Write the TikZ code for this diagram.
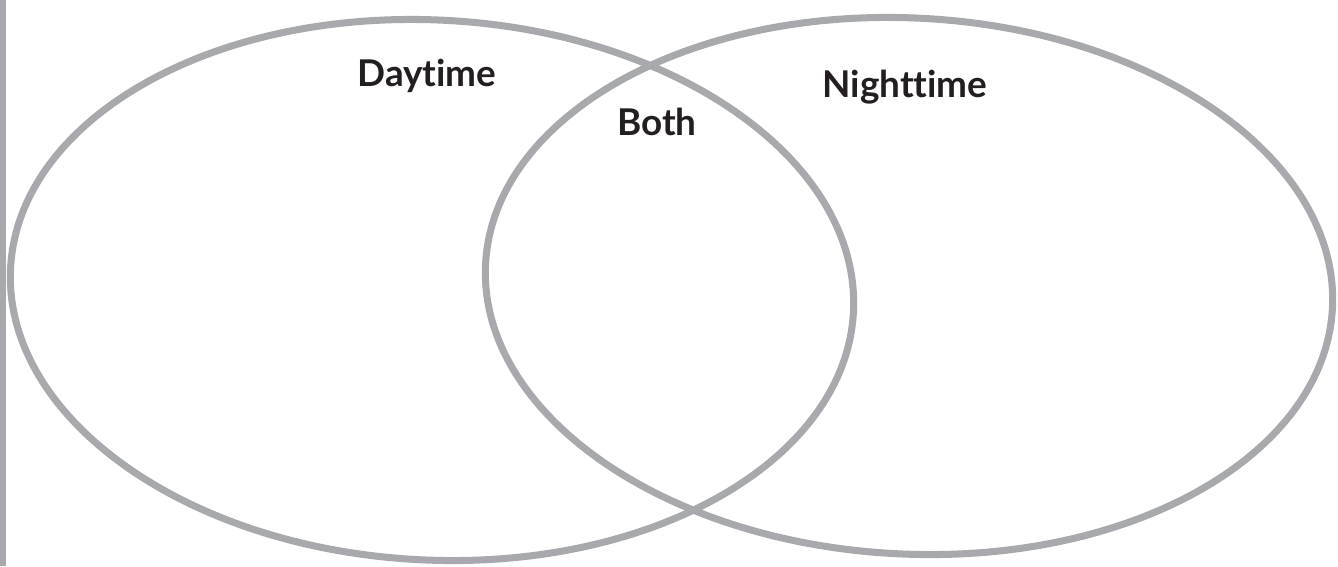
\documentclass[tikz,border=0pt]{standalone}
\usepackage{fontspec}
\setmainfont{Lato}[Ligatures=NoCommon]
\usepackage{tikz}
\usetikzlibrary{calc}
\definecolor{ringgray}{RGB}{167,169,172}
\definecolor{inkblack}{RGB}{35,31,32}

\begin{document}
\begin{tikzpicture}[
    ring/.style={draw=ringgray, line width=4pt},
    setlabel/.style={text=inkblack, font=\bfseries\fontsize{21}{26}\selectfont, inner sep=0pt, anchor=base},
x=0.02cm, y=-0.02cm]

    \useasboundingbox (0,0) rectangle (1338,566);

    % margin bar on the left
    \fill[ringgray] (0,0) rectangle (6,566);

    \coordinate (Cday) at (432,290);
    \coordinate (Cnight) at (909,286);

    \draw[ring, rotate around={-3:(Cday)}] (Cday) ellipse [x radius=422, y radius=270];
    \draw[ring, rotate around={-3:(Cnight)}] (Cnight) ellipse [x radius=424, y radius=268];

    \node[setlabel] (day) at (427,86) {Daytime};
    \node[setlabel] (both) at (657,135) {Both};
    \node[setlabel] (night) at (905,97) {Nighttime};

\end{tikzpicture}
\end{document}
